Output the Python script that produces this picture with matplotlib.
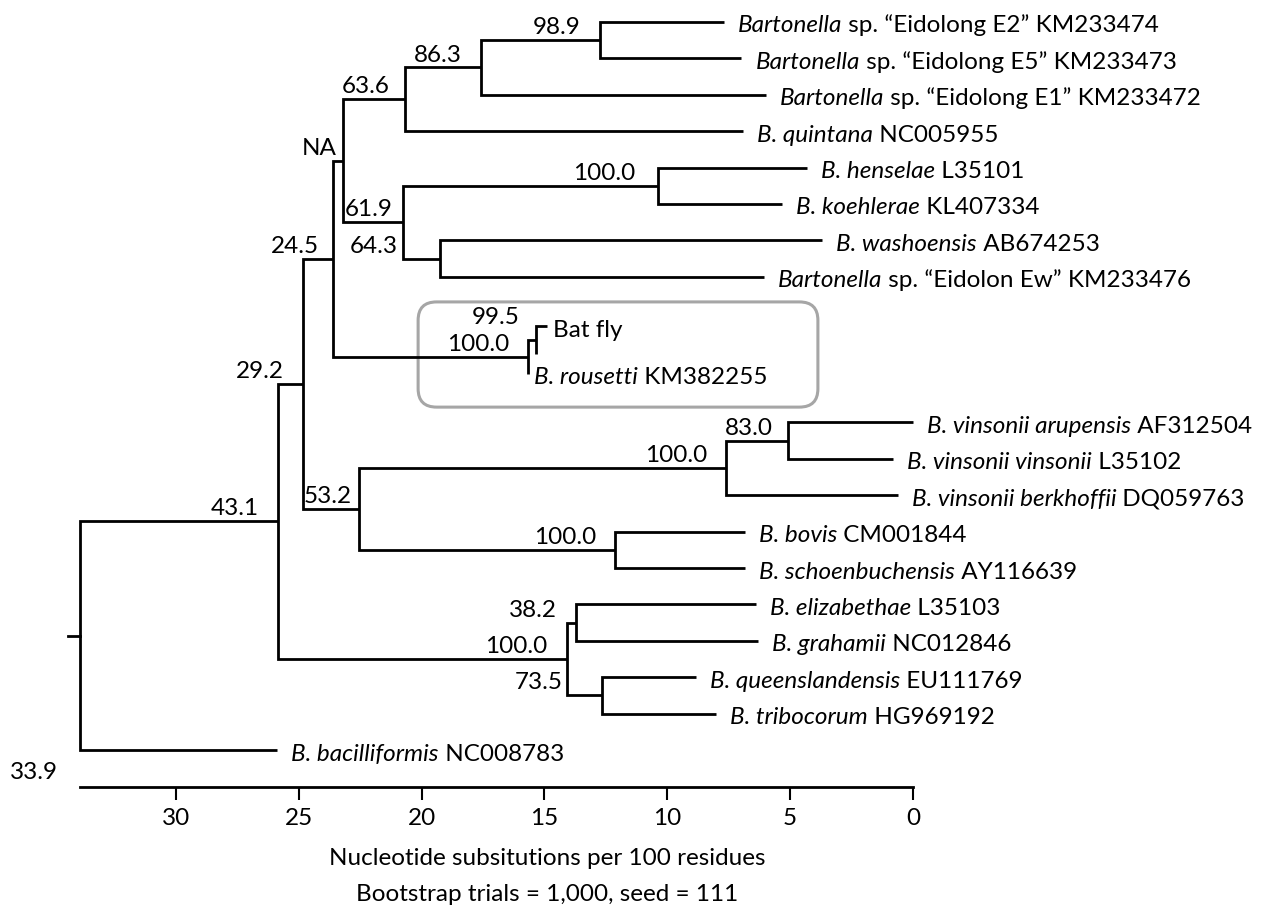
import matplotlib
matplotlib.use("Agg")
import matplotlib.pyplot as plt
from matplotlib.patches import FancyBboxPatch

# ---------------- data ----------------
tip_italic = ["Bartonella", "Bartonella", "Bartonella", "B. quintana", "B. henselae",
              "B. koehlerae", "B. washoensis", "Bartonella", "", "", "B. rousetti",
              "B. vinsonii arupensis", "B. vinsonii vinsonii", "B. vinsonii berkhoffii",
              "B. bovis", "B. schoenbuchensis", "B. elizabethae", "B. grahamii",
              "B. queenslandensis", "B. tribocorum", "B. bacilliformis"]
tip_plain = [" sp. “Eidolong E2” KM233474", " sp. “Eidolong E5” KM233473",
             " sp. “Eidolong E1” KM233472", " NC005955", " L35101", " KL407334",
             " AB674253", " sp. “Eidolon Ew” KM233476", "Bat fly", "", " KM382255",
             " AF312504", " L35102", " DQ059763", " CM001844", " AY116639",
             " L35103", " NC012846", " EU111769", " HG969192", " NC008783"]
tip_dist = [7.71, 6.98, 5.98, 6.92, 4.31, 5.33, 3.70, 6.06, 14.90, 15.34, 15.67,
            0.00, 0.81, 0.63, 6.84, 6.84, 6.39, 6.29, 8.83, 8.02, 25.88]
tip_row = [0, 1, 2, 3, 4, 5, 6, 7, 8.36, 9.12, 9.67,
           11, 12, 13, 14, 15, 16, 17, 18, 19, 20]

# internal nodes in post-order (children before parents)
node_names = ["n989", "n863", "n636", "nhen", "n643", "n619", "nNA", "n995", "nbat",
              "n245", "n830", "nvin", "nbov", "n532", "n292", "n382", "n735", "neliz",
              "n431", "root"]
node_support = ["98.9", "86.3", "63.6", "100.0", "64.3", "61.9", "NA", "99.5", "100.0",
                "24.5", "83.0", "100.0", "100.0", "53.2", "29.2", "38.2", "73.5", "100.0",
                "43.1", ""]
node_dist = [12.74, 17.58, 20.67, 10.38, 19.25, 20.76, 23.20, 15.34, 15.67,
             23.60, 5.09, 7.61, 12.13, 22.55, 24.83, 13.71, 12.66, 14.10,
             25.84, 33.9]
node_children = [["t0", "t1"], ["n989", "t2"], ["n863", "t3"], ["t4", "t5"],
                 ["t6", "t7"], ["nhen", "n643"], ["n636", "n619"], ["t8", "t9"],
                 ["n995", "t10"], ["nNA", "nbat"], ["t11", "t12"], ["n830", "t13"],
                 ["t14", "t15"], ["nvin", "nbov"], ["n245", "n532"], ["t16", "t17"],
                 ["t18", "t19"], ["n382", "n735"], ["n292", "neliz"], ["n431", "t20"]]
root_stub = 0.5
root_label = "33.9"

axis_ticks = [30, 25, 20, 15, 10, 5, 0]
axis_title = "Nucleotide subsitutions per 100 residues"
axis_note = "Bootstrap trials = 1,000, seed = 111"

# ---------------- style ----------------
FONT = "Lato"
plt.rcParams['font.family'] = [FONT, 'DejaVu Sans']
FS = 17.5
LW = 2.0

fig = plt.figure(figsize=(12.62, 9.05), dpi=100)
ax = fig.add_axes([80 / 1262, 0, 833 / 1262, 1])
ax.set_xlim(33.9, 0)
ax.set_ylim((905 - 22) / 36.4, -22 / 36.4)
axis_row = (787 - 22) / 36.4
renderer = fig.canvas.get_renderer()

# positions
pos = {}
for i, (d, r) in enumerate(zip(tip_dist, tip_row)):
    pos[f"t{i}"] = (d, r)
for name, d, ch in zip(node_names, node_dist, node_children):
    ys = [pos[c][1] for c in ch]
    pos[name] = (d, (min(ys) + max(ys)) / 2)

# branches
for name, d, ch in zip(node_names, node_dist, node_children):
    (d1, y1), (d2, y2) = pos[ch[0]], pos[ch[1]]
    ax.plot([d1, d, d, d2], [y1, y1, y2, y2], color="black", lw=LW,
            solid_joinstyle="miter", solid_capstyle="butt", zorder=3, clip_on=False)
rd, ry = pos["root"]
ax.plot([rd + root_stub, rd], [ry, ry], color="black", lw=LW, zorder=3, clip_on=False)

# support labels
label_dx = {"nNA": 13, "n619": 9, "n643": -23, "n532": 12, "n735": -20, "n245": 5,
            "n636": 4, "n830": 4, "nhen": -4, "n995": 3}
label_dy = {"n995": 10}
for name, sup in zip(node_names, node_support):
    if not sup:
        continue
    d, y = pos[name]
    ax.annotate(sup, xy=(d, y), xytext=(-19 + label_dx.get(name, 0), 6 + label_dy.get(name, 0)),
                textcoords="offset pixels", ha="right", va="baseline", fontsize=FS,
                annotation_clip=False)

# tip labels: italic part followed by plain part
for i, (it, pl) in enumerate(zip(tip_italic, tip_plain)):
    if not (it or pl):
        continue
    d, r = pos[f"t{i}"]
    gap = 6 if i in (8, 10) else 14
    w = 0
    if it:
        t = ax.annotate(it, xy=(d, r), xytext=(gap, -10.5), textcoords="offset pixels",
                        ha="left", va="baseline", fontsize=FS, fontstyle="italic",
                        annotation_clip=False)
        w = t.get_window_extent(renderer).width
    if pl:
        ax.annotate(pl, xy=(d, r), xytext=(gap + w, -10.5), textcoords="offset pixels",
                    ha="left", va="baseline", fontsize=FS, annotation_clip=False)

# highlight box
box = FancyBboxPatch((3.87, 7.69), 20.14 - 3.87, 10.58 - 7.69,
                     boxstyle="round,pad=0,rounding_size=0.75", mutation_aspect=24.57 / 36.4,
                     fill=False, edgecolor="#a6a6a6", lw=2.2, zorder=1, clip_on=False)
ax.add_patch(box)

# scale axis
for s in ("left", "top", "right"):
    ax.spines[s].set_visible(False)
ax.spines["bottom"].set_position(("data", axis_row))
ax.spines["bottom"].set_bounds(0, 33.9)
ax.spines["bottom"].set_linewidth(2.0)
ax.set_yticks([])
ax.set_xticks(axis_ticks)
ax.set_xticklabels([str(t) for t in axis_ticks])
ax.tick_params(axis="x", direction="out", length=9.4, width=1.5, pad=6, labelsize=FS)
ax.patch.set_visible(False)
ax.annotate(root_label, xy=(33.9, axis_row), xytext=(-22, 4), textcoords="offset pixels",
            ha="right", va="bottom", fontsize=FS, annotation_clip=False)

fig.text(547 / 1262, 1 - 858 / 905, axis_title, ha="center", va="center", fontsize=FS)
fig.text(547 / 1262, 1 - 894 / 905, axis_note, ha="center", va="center", fontsize=FS)

fig.savefig("out.png", dpi=100)
